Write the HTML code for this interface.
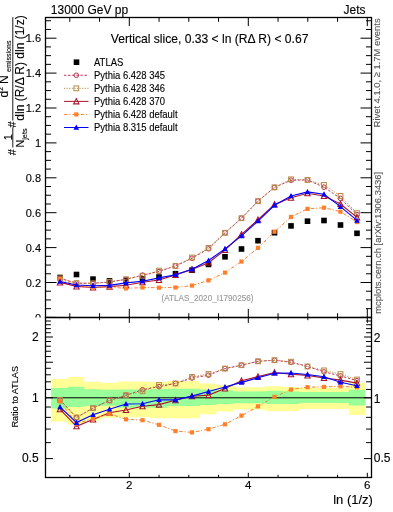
<!DOCTYPE html><html><head><meta charset="utf-8"><style>html,body{margin:0;padding:0;background:#fff;}svg{display:block;will-change:transform;}text{font-family:"Liberation Sans",sans-serif;}</style></head><body>
<svg width="393" height="512" viewBox="0 0 393 512">
<rect width="393" height="512" fill="#fff"/>
<text x="50.8" y="13.8" font-size="12" fill="#000" stroke="#000" stroke-width="0.12">13000 GeV pp</text>
<text x="365.6" y="13.8" font-size="12" fill="#000" stroke="#000" stroke-width="0.12" text-anchor="end">Jets</text>
<g>
<text x="209.6" y="43.3" font-size="12.1" text-anchor="middle" fill="#000" stroke="#000" stroke-width="0.12">Vertical slice, 0.33 &lt; ln (RΔ R) &lt; 0.67</text>
<rect x="73.7" y="59.4" width="5.6" height="5.6" fill="#000"/>
<text transform="translate(94,65.7) scale(0.915,1)" font-size="10.35" fill="#000" stroke="#000" stroke-width="0.12">ATLAS</text>
<line x1="64" y1="75.26" x2="88.5" y2="75.26" stroke="#bc3458" stroke-width="1.0" stroke-dasharray="2.4,1.7"/>
<circle cx="76.3" cy="75.26" r="2.3" fill="none" stroke="#bc3458" stroke-width="1"/>
<text transform="translate(94,78.76) scale(0.915,1)" font-size="10.35" fill="#000" stroke="#000" stroke-width="0.12">Pythia 6.428 345</text>
<line x1="64" y1="88.32" x2="88.5" y2="88.32" stroke="#b88a48" stroke-width="1.0" stroke-dasharray="1.1,1.5"/>
<rect x="73.9" y="85.92" width="4.8" height="4.8" fill="none" stroke="#b88a48" stroke-width="1"/>
<text transform="translate(94,91.82) scale(0.915,1)" font-size="10.35" fill="#000" stroke="#000" stroke-width="0.12">Pythia 6.428 346</text>
<line x1="64" y1="101.38" x2="88.5" y2="101.38" stroke="#a8142e" stroke-width="1.0"/>
<path d="M76.3,98.58 L79,103.88 L73.6,103.88 Z" fill="none" stroke="#a8142e" stroke-width="1.05"/>
<text transform="translate(94,104.88) scale(0.915,1)" font-size="10.35" fill="#000" stroke="#000" stroke-width="0.12">Pythia 6.428 370</text>
<line x1="64" y1="114.44" x2="88.5" y2="114.44" stroke="#ff7f2a" stroke-width="1.0" stroke-dasharray="3.5,1.8,1.1,2"/>
<rect x="74.2" y="112.34" width="4.2" height="4.2" fill="#ff7f2a"/>
<text transform="translate(94,117.94) scale(0.915,1)" font-size="10.35" fill="#000" stroke="#000" stroke-width="0.12">Pythia 6.428 default</text>
<line x1="64" y1="127.5" x2="88.5" y2="127.5" stroke="#0000ff" stroke-width="1.0"/>
<path d="M76.3,124.5 L79.1,129.8 L73.5,129.8 Z" fill="#0000ff"/>
<text transform="translate(94,131) scale(0.915,1)" font-size="10.35" fill="#000" stroke="#000" stroke-width="0.12">Pythia 8.315 default</text>
<text transform="translate(207.5,300.9) scale(0.95,1)" font-size="8.6" text-anchor="middle" fill="#999" stroke="#999" stroke-width="0.12">(ATLAS_2020_I1790256)</text>
<rect x="57.2" y="274.7" width="5.6" height="5.6" fill="#000"/>
<rect x="73.7" y="271.7" width="5.6" height="5.6" fill="#000"/>
<rect x="90.2" y="276.3" width="5.6" height="5.6" fill="#000"/>
<rect x="106.7" y="278.1" width="5.6" height="5.6" fill="#000"/>
<rect x="123.2" y="277.6" width="5.6" height="5.6" fill="#000"/>
<rect x="139.7" y="276" width="5.6" height="5.6" fill="#000"/>
<rect x="156.2" y="274.2" width="5.6" height="5.6" fill="#000"/>
<rect x="172.7" y="270.9" width="5.6" height="5.6" fill="#000"/>
<rect x="189.2" y="267.4" width="5.6" height="5.6" fill="#000"/>
<rect x="205.7" y="261.6" width="5.6" height="5.6" fill="#000"/>
<rect x="222.2" y="254" width="5.6" height="5.6" fill="#000"/>
<rect x="238.7" y="246.2" width="5.6" height="5.6" fill="#000"/>
<rect x="255.2" y="237.9" width="5.6" height="5.6" fill="#000"/>
<rect x="271.7" y="229.9" width="5.6" height="5.6" fill="#000"/>
<rect x="288.2" y="223.1" width="5.6" height="5.6" fill="#000"/>
<rect x="304.7" y="218.4" width="5.6" height="5.6" fill="#000"/>
<rect x="321.2" y="217.7" width="5.6" height="5.6" fill="#000"/>
<rect x="337.7" y="222.2" width="5.6" height="5.6" fill="#000"/>
<rect x="354.2" y="230.5" width="5.6" height="5.6" fill="#000"/>
<path d="M60,278.44 L76.5,283.13 L93,283.34 L109.5,282.01 L126,279.29 L142.5,275.07 L159,271.5 L175.5,265.96 L192,258.25 L208.5,248.82 L225,232.86 L241.5,218.21 L258,201.12 L274.5,187.37 L291,180.25 L307.5,179.95 L324,187.22 L340.5,198.41 L357,214.59" fill="none" stroke="#bc3458" stroke-width="1.0" stroke-dasharray="2.4,1.7"/><circle cx="60" cy="278.44" r="2.3" fill="none" stroke="#bc3458" stroke-width="1"/><circle cx="76.5" cy="283.13" r="2.3" fill="none" stroke="#bc3458" stroke-width="1"/><circle cx="93" cy="283.34" r="2.3" fill="none" stroke="#bc3458" stroke-width="1"/><circle cx="109.5" cy="282.01" r="2.3" fill="none" stroke="#bc3458" stroke-width="1"/><circle cx="126" cy="279.29" r="2.3" fill="none" stroke="#bc3458" stroke-width="1"/><circle cx="142.5" cy="275.07" r="2.3" fill="none" stroke="#bc3458" stroke-width="1"/><circle cx="159" cy="271.5" r="2.3" fill="none" stroke="#bc3458" stroke-width="1"/><circle cx="175.5" cy="265.96" r="2.3" fill="none" stroke="#bc3458" stroke-width="1"/><circle cx="192" cy="258.25" r="2.3" fill="none" stroke="#bc3458" stroke-width="1"/><circle cx="208.5" cy="248.82" r="2.3" fill="none" stroke="#bc3458" stroke-width="1"/><circle cx="225" cy="232.86" r="2.3" fill="none" stroke="#bc3458" stroke-width="1"/><circle cx="241.5" cy="218.21" r="2.3" fill="none" stroke="#bc3458" stroke-width="1"/><circle cx="258" cy="201.12" r="2.3" fill="none" stroke="#bc3458" stroke-width="1"/><circle cx="274.5" cy="187.37" r="2.3" fill="none" stroke="#bc3458" stroke-width="1"/><circle cx="291" cy="180.25" r="2.3" fill="none" stroke="#bc3458" stroke-width="1"/><circle cx="307.5" cy="179.95" r="2.3" fill="none" stroke="#bc3458" stroke-width="1"/><circle cx="324" cy="187.22" r="2.3" fill="none" stroke="#bc3458" stroke-width="1"/><circle cx="340.5" cy="198.41" r="2.3" fill="none" stroke="#bc3458" stroke-width="1"/><circle cx="357" cy="214.59" r="2.3" fill="none" stroke="#bc3458" stroke-width="1"/>
<path d="M60,278.44 L76.5,283.13 L93,283.34 L109.5,282.01 L126,279.29 L142.5,275.83 L159,270.65 L175.5,265.96 L192,257.5 L208.5,247.88 L225,232.86 L241.5,218.21 L258,201.12 L274.5,187.37 L291,179.31 L307.5,179.95 L324,184.97 L340.5,195.94 L357,213.17" fill="none" stroke="#b88a48" stroke-width="1.0" stroke-dasharray="1.1,1.5"/><rect x="57.6" y="276.04" width="4.8" height="4.8" fill="none" stroke="#b88a48" stroke-width="1"/><rect x="74.1" y="280.73" width="4.8" height="4.8" fill="none" stroke="#b88a48" stroke-width="1"/><rect x="90.6" y="280.94" width="4.8" height="4.8" fill="none" stroke="#b88a48" stroke-width="1"/><rect x="107.1" y="279.61" width="4.8" height="4.8" fill="none" stroke="#b88a48" stroke-width="1"/><rect x="123.6" y="276.89" width="4.8" height="4.8" fill="none" stroke="#b88a48" stroke-width="1"/><rect x="140.1" y="273.43" width="4.8" height="4.8" fill="none" stroke="#b88a48" stroke-width="1"/><rect x="156.6" y="268.25" width="4.8" height="4.8" fill="none" stroke="#b88a48" stroke-width="1"/><rect x="173.1" y="263.56" width="4.8" height="4.8" fill="none" stroke="#b88a48" stroke-width="1"/><rect x="189.6" y="255.1" width="4.8" height="4.8" fill="none" stroke="#b88a48" stroke-width="1"/><rect x="206.1" y="245.48" width="4.8" height="4.8" fill="none" stroke="#b88a48" stroke-width="1"/><rect x="222.6" y="230.46" width="4.8" height="4.8" fill="none" stroke="#b88a48" stroke-width="1"/><rect x="239.1" y="215.81" width="4.8" height="4.8" fill="none" stroke="#b88a48" stroke-width="1"/><rect x="255.6" y="198.72" width="4.8" height="4.8" fill="none" stroke="#b88a48" stroke-width="1"/><rect x="272.1" y="184.97" width="4.8" height="4.8" fill="none" stroke="#b88a48" stroke-width="1"/><rect x="288.6" y="176.91" width="4.8" height="4.8" fill="none" stroke="#b88a48" stroke-width="1"/><rect x="305.1" y="177.55" width="4.8" height="4.8" fill="none" stroke="#b88a48" stroke-width="1"/><rect x="321.6" y="182.57" width="4.8" height="4.8" fill="none" stroke="#b88a48" stroke-width="1"/><rect x="338.1" y="193.54" width="4.8" height="4.8" fill="none" stroke="#b88a48" stroke-width="1"/><rect x="354.6" y="210.77" width="4.8" height="4.8" fill="none" stroke="#b88a48" stroke-width="1"/>
<path d="M60,282.4 L76.5,286.4 L93,287.46 L109.5,286.64 L126,285.2 L142.5,282.33 L159,280.01 L175.5,274.88 L192,269.39 L208.5,262.74 L225,250.02 L241.5,234.37 L258,219.73 L274.5,204.38 L291,197.65 L307.5,193.21 L324,195.96 L340.5,203.97 L357,217.36" fill="none" stroke="#a8142e" stroke-width="1.1"/><path d="M60,279.6 L62.7,284.9 L57.3,284.9 Z" fill="none" stroke="#a8142e" stroke-width="1.05"/><path d="M76.5,283.6 L79.2,288.9 L73.8,288.9 Z" fill="none" stroke="#a8142e" stroke-width="1.05"/><path d="M93,284.66 L95.7,289.96 L90.3,289.96 Z" fill="none" stroke="#a8142e" stroke-width="1.05"/><path d="M109.5,283.84 L112.2,289.14 L106.8,289.14 Z" fill="none" stroke="#a8142e" stroke-width="1.05"/><path d="M126,282.4 L128.7,287.7 L123.3,287.7 Z" fill="none" stroke="#a8142e" stroke-width="1.05"/><path d="M142.5,279.53 L145.2,284.83 L139.8,284.83 Z" fill="none" stroke="#a8142e" stroke-width="1.05"/><path d="M159,277.21 L161.7,282.51 L156.3,282.51 Z" fill="none" stroke="#a8142e" stroke-width="1.05"/><path d="M175.5,272.08 L178.2,277.38 L172.8,277.38 Z" fill="none" stroke="#a8142e" stroke-width="1.05"/><path d="M192,266.59 L194.7,271.89 L189.3,271.89 Z" fill="none" stroke="#a8142e" stroke-width="1.05"/><path d="M208.5,259.94 L211.2,265.24 L205.8,265.24 Z" fill="none" stroke="#a8142e" stroke-width="1.05"/><path d="M225,247.22 L227.7,252.52 L222.3,252.52 Z" fill="none" stroke="#a8142e" stroke-width="1.05"/><path d="M241.5,231.57 L244.2,236.87 L238.8,236.87 Z" fill="none" stroke="#a8142e" stroke-width="1.05"/><path d="M258,216.93 L260.7,222.23 L255.3,222.23 Z" fill="none" stroke="#a8142e" stroke-width="1.05"/><path d="M274.5,201.58 L277.2,206.88 L271.8,206.88 Z" fill="none" stroke="#a8142e" stroke-width="1.05"/><path d="M291,194.85 L293.7,200.15 L288.3,200.15 Z" fill="none" stroke="#a8142e" stroke-width="1.05"/><path d="M307.5,190.41 L310.2,195.71 L304.8,195.71 Z" fill="none" stroke="#a8142e" stroke-width="1.05"/><path d="M324,193.16 L326.7,198.46 L321.3,198.46 Z" fill="none" stroke="#a8142e" stroke-width="1.05"/><path d="M340.5,201.17 L343.2,206.47 L337.8,206.47 Z" fill="none" stroke="#a8142e" stroke-width="1.05"/><path d="M357,214.56 L359.7,219.86 L354.3,219.86 Z" fill="none" stroke="#a8142e" stroke-width="1.05"/>
<path d="M60,279.1 L76.5,285.4 L93,287.25 L109.5,286.99 L126,288.44 L142.5,287.5 L159,287.7 L175.5,287.5 L192,285.58 L208.5,280.35 L225,272.6 L241.5,261.56 L258,247.86 L274.5,231.73 L291,216.93 L307.5,208.84 L324,207.68 L340.5,211.71 L357,222.04" fill="none" stroke="#ff7f2a" stroke-width="1.0" stroke-dasharray="3.5,1.8,1.1,2"/><rect x="57.9" y="277" width="4.2" height="4.2" fill="#ff7f2a"/><rect x="74.4" y="283.3" width="4.2" height="4.2" fill="#ff7f2a"/><rect x="90.9" y="285.15" width="4.2" height="4.2" fill="#ff7f2a"/><rect x="107.4" y="284.89" width="4.2" height="4.2" fill="#ff7f2a"/><rect x="123.9" y="286.34" width="4.2" height="4.2" fill="#ff7f2a"/><rect x="140.4" y="285.4" width="4.2" height="4.2" fill="#ff7f2a"/><rect x="156.9" y="285.6" width="4.2" height="4.2" fill="#ff7f2a"/><rect x="173.4" y="285.4" width="4.2" height="4.2" fill="#ff7f2a"/><rect x="189.9" y="283.48" width="4.2" height="4.2" fill="#ff7f2a"/><rect x="206.4" y="278.25" width="4.2" height="4.2" fill="#ff7f2a"/><rect x="222.9" y="270.5" width="4.2" height="4.2" fill="#ff7f2a"/><rect x="239.4" y="259.46" width="4.2" height="4.2" fill="#ff7f2a"/><rect x="255.9" y="245.76" width="4.2" height="4.2" fill="#ff7f2a"/><rect x="272.4" y="229.63" width="4.2" height="4.2" fill="#ff7f2a"/><rect x="288.9" y="214.83" width="4.2" height="4.2" fill="#ff7f2a"/><rect x="305.4" y="206.74" width="4.2" height="4.2" fill="#ff7f2a"/><rect x="321.9" y="205.58" width="4.2" height="4.2" fill="#ff7f2a"/><rect x="338.4" y="209.61" width="4.2" height="4.2" fill="#ff7f2a"/><rect x="354.9" y="219.94" width="4.2" height="4.2" fill="#ff7f2a"/>
<path d="M60,281.47 L76.5,285.07 L93,285.81 L109.5,285.35 L126,282.92 L142.5,281.31 L159,277.91 L175.5,274.73 L192,269.28 L208.5,260.45 L225,248.86 L241.5,235.87 L258,221.06 L274.5,205.28 L291,196 L307.5,191.93 L324,194.29 L340.5,206.66 L357,220.4" fill="none" stroke="#0000ff" stroke-width="1.1"/><path d="M60,278.47 L62.8,283.77 L57.2,283.77 Z" fill="#0000ff"/><path d="M76.5,282.07 L79.3,287.37 L73.7,287.37 Z" fill="#0000ff"/><path d="M93,282.81 L95.8,288.11 L90.2,288.11 Z" fill="#0000ff"/><path d="M109.5,282.35 L112.3,287.65 L106.7,287.65 Z" fill="#0000ff"/><path d="M126,279.92 L128.8,285.22 L123.2,285.22 Z" fill="#0000ff"/><path d="M142.5,278.31 L145.3,283.61 L139.7,283.61 Z" fill="#0000ff"/><path d="M159,274.91 L161.8,280.21 L156.2,280.21 Z" fill="#0000ff"/><path d="M175.5,271.73 L178.3,277.03 L172.7,277.03 Z" fill="#0000ff"/><path d="M192,266.28 L194.8,271.58 L189.2,271.58 Z" fill="#0000ff"/><path d="M208.5,257.45 L211.3,262.75 L205.7,262.75 Z" fill="#0000ff"/><path d="M225,245.86 L227.8,251.16 L222.2,251.16 Z" fill="#0000ff"/><path d="M241.5,232.87 L244.3,238.17 L238.7,238.17 Z" fill="#0000ff"/><path d="M258,218.06 L260.8,223.36 L255.2,223.36 Z" fill="#0000ff"/><path d="M274.5,202.28 L277.3,207.58 L271.7,207.58 Z" fill="#0000ff"/><path d="M291,193 L293.8,198.3 L288.2,198.3 Z" fill="#0000ff"/><path d="M307.5,188.93 L310.3,194.23 L304.7,194.23 Z" fill="#0000ff"/><path d="M324,191.29 L326.8,196.59 L321.2,196.59 Z" fill="#0000ff"/><path d="M340.5,203.66 L343.3,208.96 L337.7,208.96 Z" fill="#0000ff"/><path d="M357,217.4 L359.8,222.7 L354.2,222.7 Z" fill="#0000ff"/>
</g>
<text x="41" y="322.1" font-size="11" text-anchor="end" fill="#000" stroke="#000" stroke-width="0.12">0</text>
<text x="41" y="287.06" font-size="11" text-anchor="end" fill="#000" stroke="#000" stroke-width="0.12">0.2</text>
<text x="41" y="252.02" font-size="11" text-anchor="end" fill="#000" stroke="#000" stroke-width="0.12">0.4</text>
<text x="41" y="216.98" font-size="11" text-anchor="end" fill="#000" stroke="#000" stroke-width="0.12">0.6</text>
<text x="41" y="181.94" font-size="11" text-anchor="end" fill="#000" stroke="#000" stroke-width="0.12">0.8</text>
<text x="41" y="146.9" font-size="11" text-anchor="end" fill="#000" stroke="#000" stroke-width="0.12">1</text>
<text x="41" y="111.86" font-size="11" text-anchor="end" fill="#000" stroke="#000" stroke-width="0.12">1.2</text>
<text x="41" y="76.82" font-size="11" text-anchor="end" fill="#000" stroke="#000" stroke-width="0.12">1.4</text>
<text x="41" y="41.78" font-size="11" text-anchor="end" fill="#000" stroke="#000" stroke-width="0.12">1.6</text>
<rect x="0" y="317.5" width="371.5" height="160.0" fill="#fff"/>
<path d="M51.1,379.1 H67.64 V377.1 H84.17 V381.8 H100.71 V382.7 H117.25 V381.4 H133.78 V381.4 H150.32 V381.9 H166.86 V381.1 H183.4 V381.1 H199.93 V383.4 H216.47 V384.9 H233.01 V387.3 H249.54 V387.3 H266.08 V386.2 H282.62 V386.9 H299.15 V387.8 H315.69 V387.8 H332.23 V387.8 H348.77 V382.9 H365.3 V414.9 H348.77 V409 H332.23 V409 H315.69 V409 H299.15 V411 H282.62 V411.2 H266.08 V409.4 H249.54 V409.4 H233.01 V411.5 H216.47 V414.3 H199.93 V418.3 H183.4 V418.3 H166.86 V418.3 H150.32 V417.2 H133.78 V417.2 H117.25 V417.7 H100.71 V420.4 H84.17 V424.4 H67.64 V421.4 H51.1 Z" fill="#ffff96"/>
<path d="M51.1,387.9 H67.64 V386.7 H84.17 V389.3 H100.71 V389.7 H117.25 V389.4 H133.78 V389.4 H150.32 V389.1 H166.86 V388.7 H183.4 V388.7 H199.93 V389.5 H216.47 V390.3 H233.01 V391.6 H249.54 V391.6 H266.08 V390.7 H282.62 V391.4 H299.15 V392.1 H315.69 V392.1 H332.23 V392.1 H348.77 V389.8 H365.3 V405.5 H348.77 V403.1 H332.23 V403.1 H315.69 V403.1 H299.15 V403.9 H282.62 V404 H266.08 V403.2 H249.54 V403.2 H233.01 V404 H216.47 V405.1 H199.93 V406.1 H183.4 V406.1 H166.86 V407.7 H150.32 V407.7 H133.78 V407.7 H117.25 V405.7 H100.71 V406.1 H84.17 V407.1 H67.64 V408.6 H51.1 Z" fill="#99ff99"/>
<line x1="45.5" y1="397.8" x2="371.5" y2="397.8" stroke="#000" stroke-width="1"/>
<path d="M60,399.9 L76.5,417.5 L93,408.1 L109.5,400.5 L126,395.2 L142.5,389.7 L159,386.6 L175.5,383.5 L192,378 L208.5,375.2 L225,368.6 L241.5,365.2 L258,361.3 L274.5,360.2 L291,362.3 L307.5,366.5 L324,371.9 L340.5,375.9 L357,380.7" fill="none" stroke="#bc3458" stroke-width="1.0" stroke-dasharray="2.4,1.7"/><circle cx="60" cy="399.9" r="2.3" fill="none" stroke="#bc3458" stroke-width="1"/><circle cx="76.5" cy="417.5" r="2.3" fill="none" stroke="#bc3458" stroke-width="1"/><circle cx="93" cy="408.1" r="2.3" fill="none" stroke="#bc3458" stroke-width="1"/><circle cx="109.5" cy="400.5" r="2.3" fill="none" stroke="#bc3458" stroke-width="1"/><circle cx="126" cy="395.2" r="2.3" fill="none" stroke="#bc3458" stroke-width="1"/><circle cx="142.5" cy="389.7" r="2.3" fill="none" stroke="#bc3458" stroke-width="1"/><circle cx="159" cy="386.6" r="2.3" fill="none" stroke="#bc3458" stroke-width="1"/><circle cx="175.5" cy="383.5" r="2.3" fill="none" stroke="#bc3458" stroke-width="1"/><circle cx="192" cy="378" r="2.3" fill="none" stroke="#bc3458" stroke-width="1"/><circle cx="208.5" cy="375.2" r="2.3" fill="none" stroke="#bc3458" stroke-width="1"/><circle cx="225" cy="368.6" r="2.3" fill="none" stroke="#bc3458" stroke-width="1"/><circle cx="241.5" cy="365.2" r="2.3" fill="none" stroke="#bc3458" stroke-width="1"/><circle cx="258" cy="361.3" r="2.3" fill="none" stroke="#bc3458" stroke-width="1"/><circle cx="274.5" cy="360.2" r="2.3" fill="none" stroke="#bc3458" stroke-width="1"/><circle cx="291" cy="362.3" r="2.3" fill="none" stroke="#bc3458" stroke-width="1"/><circle cx="307.5" cy="366.5" r="2.3" fill="none" stroke="#bc3458" stroke-width="1"/><circle cx="324" cy="371.9" r="2.3" fill="none" stroke="#bc3458" stroke-width="1"/><circle cx="340.5" cy="375.9" r="2.3" fill="none" stroke="#bc3458" stroke-width="1"/><circle cx="357" cy="380.7" r="2.3" fill="none" stroke="#bc3458" stroke-width="1"/>
<path d="M60,399.9 L76.5,417.5 L93,408.1 L109.5,400.5 L126,395.2 L142.5,391.3 L159,385 L175.5,383.5 L192,376.9 L208.5,374 L225,368.6 L241.5,365.2 L258,361.3 L274.5,360.2 L291,361.7 L307.5,366.5 L324,370.4 L340.5,374.1 L357,379.5" fill="none" stroke="#b88a48" stroke-width="1.0" stroke-dasharray="1.1,1.5"/><rect x="57.6" y="397.5" width="4.8" height="4.8" fill="none" stroke="#b88a48" stroke-width="1"/><rect x="74.1" y="415.1" width="4.8" height="4.8" fill="none" stroke="#b88a48" stroke-width="1"/><rect x="90.6" y="405.7" width="4.8" height="4.8" fill="none" stroke="#b88a48" stroke-width="1"/><rect x="107.1" y="398.1" width="4.8" height="4.8" fill="none" stroke="#b88a48" stroke-width="1"/><rect x="123.6" y="392.8" width="4.8" height="4.8" fill="none" stroke="#b88a48" stroke-width="1"/><rect x="140.1" y="388.9" width="4.8" height="4.8" fill="none" stroke="#b88a48" stroke-width="1"/><rect x="156.6" y="382.6" width="4.8" height="4.8" fill="none" stroke="#b88a48" stroke-width="1"/><rect x="173.1" y="381.1" width="4.8" height="4.8" fill="none" stroke="#b88a48" stroke-width="1"/><rect x="189.6" y="374.5" width="4.8" height="4.8" fill="none" stroke="#b88a48" stroke-width="1"/><rect x="206.1" y="371.6" width="4.8" height="4.8" fill="none" stroke="#b88a48" stroke-width="1"/><rect x="222.6" y="366.2" width="4.8" height="4.8" fill="none" stroke="#b88a48" stroke-width="1"/><rect x="239.1" y="362.8" width="4.8" height="4.8" fill="none" stroke="#b88a48" stroke-width="1"/><rect x="255.6" y="358.9" width="4.8" height="4.8" fill="none" stroke="#b88a48" stroke-width="1"/><rect x="272.1" y="357.8" width="4.8" height="4.8" fill="none" stroke="#b88a48" stroke-width="1"/><rect x="288.6" y="359.3" width="4.8" height="4.8" fill="none" stroke="#b88a48" stroke-width="1"/><rect x="305.1" y="364.1" width="4.8" height="4.8" fill="none" stroke="#b88a48" stroke-width="1"/><rect x="321.6" y="368" width="4.8" height="4.8" fill="none" stroke="#b88a48" stroke-width="1"/><rect x="338.1" y="371.7" width="4.8" height="4.8" fill="none" stroke="#b88a48" stroke-width="1"/><rect x="354.6" y="377.1" width="4.8" height="4.8" fill="none" stroke="#b88a48" stroke-width="1"/>
<path d="M60,409.3 L76.5,426.3 L93,419.4 L109.5,412.8 L126,410 L142.5,406.2 L159,404.6 L175.5,400.2 L192,396.3 L208.5,395.1 L225,388.5 L241.5,380.8 L258,376.6 L274.5,372.5 L291,374.2 L307.5,375.4 L324,378 L340.5,380.1 L357,383.1" fill="none" stroke="#a8142e" stroke-width="1.1"/><path d="M60,406.5 L62.7,411.8 L57.3,411.8 Z" fill="none" stroke="#a8142e" stroke-width="1.05"/><path d="M76.5,423.5 L79.2,428.8 L73.8,428.8 Z" fill="none" stroke="#a8142e" stroke-width="1.05"/><path d="M93,416.6 L95.7,421.9 L90.3,421.9 Z" fill="none" stroke="#a8142e" stroke-width="1.05"/><path d="M109.5,410 L112.2,415.3 L106.8,415.3 Z" fill="none" stroke="#a8142e" stroke-width="1.05"/><path d="M126,407.2 L128.7,412.5 L123.3,412.5 Z" fill="none" stroke="#a8142e" stroke-width="1.05"/><path d="M142.5,403.4 L145.2,408.7 L139.8,408.7 Z" fill="none" stroke="#a8142e" stroke-width="1.05"/><path d="M159,401.8 L161.7,407.1 L156.3,407.1 Z" fill="none" stroke="#a8142e" stroke-width="1.05"/><path d="M175.5,397.4 L178.2,402.7 L172.8,402.7 Z" fill="none" stroke="#a8142e" stroke-width="1.05"/><path d="M192,393.5 L194.7,398.8 L189.3,398.8 Z" fill="none" stroke="#a8142e" stroke-width="1.05"/><path d="M208.5,392.3 L211.2,397.6 L205.8,397.6 Z" fill="none" stroke="#a8142e" stroke-width="1.05"/><path d="M225,385.7 L227.7,391 L222.3,391 Z" fill="none" stroke="#a8142e" stroke-width="1.05"/><path d="M241.5,378 L244.2,383.3 L238.8,383.3 Z" fill="none" stroke="#a8142e" stroke-width="1.05"/><path d="M258,373.8 L260.7,379.1 L255.3,379.1 Z" fill="none" stroke="#a8142e" stroke-width="1.05"/><path d="M274.5,369.7 L277.2,375 L271.8,375 Z" fill="none" stroke="#a8142e" stroke-width="1.05"/><path d="M291,371.4 L293.7,376.7 L288.3,376.7 Z" fill="none" stroke="#a8142e" stroke-width="1.05"/><path d="M307.5,372.6 L310.2,377.9 L304.8,377.9 Z" fill="none" stroke="#a8142e" stroke-width="1.05"/><path d="M324,375.2 L326.7,380.5 L321.3,380.5 Z" fill="none" stroke="#a8142e" stroke-width="1.05"/><path d="M340.5,377.3 L343.2,382.6 L337.8,382.6 Z" fill="none" stroke="#a8142e" stroke-width="1.05"/><path d="M357,380.3 L359.7,385.6 L354.3,385.6 Z" fill="none" stroke="#a8142e" stroke-width="1.05"/>
<path d="M60,401.4 L76.5,423.5 L93,418.8 L109.5,413.8 L126,419.3 L142.5,420.2 L159,424.8 L175.5,431.1 L192,432.4 L208.5,429.2 L225,424.3 L241.5,415.6 L258,406.4 L274.5,396.8 L291,389.6 L307.5,387.2 L324,386.9 L340.5,386.3 L357,387.3" fill="none" stroke="#ff7f2a" stroke-width="1.0" stroke-dasharray="3.5,1.8,1.1,2"/><rect x="57.9" y="399.3" width="4.2" height="4.2" fill="#ff7f2a"/><rect x="74.4" y="421.4" width="4.2" height="4.2" fill="#ff7f2a"/><rect x="90.9" y="416.7" width="4.2" height="4.2" fill="#ff7f2a"/><rect x="107.4" y="411.7" width="4.2" height="4.2" fill="#ff7f2a"/><rect x="123.9" y="417.2" width="4.2" height="4.2" fill="#ff7f2a"/><rect x="140.4" y="418.1" width="4.2" height="4.2" fill="#ff7f2a"/><rect x="156.9" y="422.7" width="4.2" height="4.2" fill="#ff7f2a"/><rect x="173.4" y="429" width="4.2" height="4.2" fill="#ff7f2a"/><rect x="189.9" y="430.3" width="4.2" height="4.2" fill="#ff7f2a"/><rect x="206.4" y="427.1" width="4.2" height="4.2" fill="#ff7f2a"/><rect x="222.9" y="422.2" width="4.2" height="4.2" fill="#ff7f2a"/><rect x="239.4" y="413.5" width="4.2" height="4.2" fill="#ff7f2a"/><rect x="255.9" y="404.3" width="4.2" height="4.2" fill="#ff7f2a"/><rect x="272.4" y="394.7" width="4.2" height="4.2" fill="#ff7f2a"/><rect x="288.9" y="387.5" width="4.2" height="4.2" fill="#ff7f2a"/><rect x="305.4" y="385.1" width="4.2" height="4.2" fill="#ff7f2a"/><rect x="321.9" y="384.8" width="4.2" height="4.2" fill="#ff7f2a"/><rect x="338.4" y="384.2" width="4.2" height="4.2" fill="#ff7f2a"/><rect x="354.9" y="385.2" width="4.2" height="4.2" fill="#ff7f2a"/>
<path d="M60,407 L76.5,422.6 L93,414.7 L109.5,409.2 L126,404 L142.5,403.7 L159,399.8 L175.5,399.9 L192,396.1 L208.5,391.5 L225,387 L241.5,382.4 L258,377.8 L274.5,373.2 L291,373 L307.5,374.5 L324,376.8 L340.5,382.2 L357,385.8" fill="none" stroke="#0000ff" stroke-width="1.1"/><path d="M60,404 L62.8,409.3 L57.2,409.3 Z" fill="#0000ff"/><path d="M76.5,419.6 L79.3,424.9 L73.7,424.9 Z" fill="#0000ff"/><path d="M93,411.7 L95.8,417 L90.2,417 Z" fill="#0000ff"/><path d="M109.5,406.2 L112.3,411.5 L106.7,411.5 Z" fill="#0000ff"/><path d="M126,401 L128.8,406.3 L123.2,406.3 Z" fill="#0000ff"/><path d="M142.5,400.7 L145.3,406 L139.7,406 Z" fill="#0000ff"/><path d="M159,396.8 L161.8,402.1 L156.2,402.1 Z" fill="#0000ff"/><path d="M175.5,396.9 L178.3,402.2 L172.7,402.2 Z" fill="#0000ff"/><path d="M192,393.1 L194.8,398.4 L189.2,398.4 Z" fill="#0000ff"/><path d="M208.5,388.5 L211.3,393.8 L205.7,393.8 Z" fill="#0000ff"/><path d="M225,384 L227.8,389.3 L222.2,389.3 Z" fill="#0000ff"/><path d="M241.5,379.4 L244.3,384.7 L238.7,384.7 Z" fill="#0000ff"/><path d="M258,374.8 L260.8,380.1 L255.2,380.1 Z" fill="#0000ff"/><path d="M274.5,370.2 L277.3,375.5 L271.7,375.5 Z" fill="#0000ff"/><path d="M291,370 L293.8,375.3 L288.2,375.3 Z" fill="#0000ff"/><path d="M307.5,371.5 L310.3,376.8 L304.7,376.8 Z" fill="#0000ff"/><path d="M324,373.8 L326.8,379.1 L321.2,379.1 Z" fill="#0000ff"/><path d="M340.5,379.2 L343.3,384.5 L337.7,384.5 Z" fill="#0000ff"/><path d="M357,382.8 L359.8,388.1 L354.2,388.1 Z" fill="#0000ff"/>
<path d="M45.5,317.4L56.5,317.4M371.5,317.4L360.5,317.4M45.5,308.67L51,308.67M371.5,308.67L366,308.67M45.5,299.95L51,299.95M371.5,299.95L366,299.95M45.5,291.22L51,291.22M371.5,291.22L366,291.22M45.5,282.5L56.5,282.5M371.5,282.5L360.5,282.5M45.5,273.77L51,273.77M371.5,273.77L366,273.77M45.5,265.05L51,265.05M371.5,265.05L366,265.05M45.5,256.32L51,256.32M371.5,256.32L366,256.32M45.5,247.6L56.5,247.6M371.5,247.6L360.5,247.6M45.5,238.87L51,238.87M371.5,238.87L366,238.87M45.5,230.15L51,230.15M371.5,230.15L366,230.15M45.5,221.42L51,221.42M371.5,221.42L366,221.42M45.5,212.7L56.5,212.7M371.5,212.7L360.5,212.7M45.5,203.97L51,203.97M371.5,203.97L366,203.97M45.5,195.25L51,195.25M371.5,195.25L366,195.25M45.5,186.52L51,186.52M371.5,186.52L366,186.52M45.5,177.8L56.5,177.8M371.5,177.8L360.5,177.8M45.5,169.07L51,169.07M371.5,169.07L366,169.07M45.5,160.35L51,160.35M371.5,160.35L366,160.35M45.5,151.62L51,151.62M371.5,151.62L366,151.62M45.5,142.9L56.5,142.9M371.5,142.9L360.5,142.9M45.5,134.17L51,134.17M371.5,134.17L366,134.17M45.5,125.45L51,125.45M371.5,125.45L366,125.45M45.5,116.72L51,116.72M371.5,116.72L366,116.72M45.5,108L56.5,108M371.5,108L360.5,108M45.5,99.27L51,99.27M371.5,99.27L366,99.27M45.5,90.55L51,90.55M371.5,90.55L366,90.55M45.5,81.82L51,81.82M371.5,81.82L366,81.82M45.5,73.1L56.5,73.1M371.5,73.1L360.5,73.1M45.5,64.37L51,64.37M371.5,64.37L366,64.37M45.5,55.65L51,55.65M371.5,55.65L366,55.65M45.5,46.92L51,46.92M371.5,46.92L366,46.92M45.5,38.2L56.5,38.2M371.5,38.2L360.5,38.2M45.5,29.47L51,29.47M371.5,29.47L366,29.47M45.5,20.75L51,20.75M371.5,20.75L366,20.75M69.8,17.5L69.8,21.8M69.8,317.5L69.8,313.2M99.55,17.5L99.55,21.8M99.55,317.5L99.55,313.2M129.3,17.5L129.3,26.1M129.3,317.5L129.3,308.9M159.05,17.5L159.05,21.8M159.05,317.5L159.05,313.2M188.8,17.5L188.8,21.8M188.8,317.5L188.8,313.2M218.55,17.5L218.55,21.8M218.55,317.5L218.55,313.2M248.3,17.5L248.3,26.1M248.3,317.5L248.3,308.9M278.05,17.5L278.05,21.8M278.05,317.5L278.05,313.2M307.8,17.5L307.8,21.8M307.8,317.5L307.8,313.2M337.55,17.5L337.55,21.8M337.55,317.5L337.55,313.2M367.3,17.5L367.3,26.1M367.3,317.5L367.3,308.9M45.5,458.6L53,458.6M371.5,458.6L364,458.6M45.5,442.61L50.9,442.61M371.5,442.61L366.1,442.61M45.5,429.09L50.9,429.09M371.5,429.09L366.1,429.09M45.5,417.37L50.9,417.37M371.5,417.37L366.1,417.37M45.5,407.04L50.9,407.04M371.5,407.04L366.1,407.04M45.5,397.8L53,397.8M371.5,397.8L364,397.8M45.5,389.44L50.9,389.44M371.5,389.44L366.1,389.44M45.5,381.81L50.9,381.81M371.5,381.81L366.1,381.81M45.5,374.79L50.9,374.79M371.5,374.79L366.1,374.79M45.5,368.29L50.9,368.29M371.5,368.29L366.1,368.29M45.5,362.23L53,362.23M371.5,362.23L364,362.23M45.5,356.57L50.9,356.57M371.5,356.57L366.1,356.57M45.5,351.26L50.9,351.26M371.5,351.26L366.1,351.26M45.5,346.24L50.9,346.24M371.5,346.24L366.1,346.24M45.5,341.5L50.9,341.5M371.5,341.5L366.1,341.5M45.5,337L53,337M371.5,337L364,337M45.5,332.72L50.9,332.72M371.5,332.72L366.1,332.72M45.5,328.64L50.9,328.64M371.5,328.64L366.1,328.64M45.5,324.74L50.9,324.74M371.5,324.74L366.1,324.74M45.5,321.01L50.9,321.01M371.5,321.01L366.1,321.01M45.5,317.43L50.9,317.43M371.5,317.43L366.1,317.43M69.8,317.5L69.8,320.2M69.8,477.5L69.8,474.8M99.55,317.5L99.55,320.2M99.55,477.5L99.55,474.8M129.3,317.5L129.3,322.9M129.3,477.5L129.3,472.8M159.05,317.5L159.05,320.2M159.05,477.5L159.05,474.8M188.8,317.5L188.8,320.2M188.8,477.5L188.8,474.8M218.55,317.5L218.55,320.2M218.55,477.5L218.55,474.8M248.3,317.5L248.3,322.9M248.3,477.5L248.3,472.8M278.05,317.5L278.05,320.2M278.05,477.5L278.05,474.8M307.8,317.5L307.8,320.2M307.8,477.5L307.8,474.8M337.55,317.5L337.55,320.2M337.55,477.5L337.55,474.8M367.3,317.5L367.3,322.9M367.3,477.5L367.3,472.8" stroke="#000" stroke-width="1" fill="none"/>
<rect x="45.5" y="17.5" width="326.0" height="300.0" fill="none" stroke="#000" stroke-width="1.3"/>
<rect x="45.5" y="317.5" width="326.0" height="160.0" fill="none" stroke="#000" stroke-width="1.3"/>
<text x="38.6" y="341.2" font-size="12" text-anchor="end" fill="#000" stroke="#000" stroke-width="0.12">2</text>
<text x="373.8" y="341.6" font-size="12" fill="#000" stroke="#000" stroke-width="0.12">2</text>
<text x="38.6" y="402" font-size="12" text-anchor="end" fill="#000" stroke="#000" stroke-width="0.12">1</text>
<text x="373.8" y="403" font-size="12" fill="#000" stroke="#000" stroke-width="0.12">1</text>
<text x="38.6" y="462" font-size="12" text-anchor="end" fill="#000" stroke="#000" stroke-width="0.12">0.5</text>
<text x="373.8" y="462.4" font-size="12" fill="#000" stroke="#000" stroke-width="0.12">0.5</text>
<text x="129.3" y="488.6" font-size="11.5" text-anchor="middle" fill="#000" stroke="#000" stroke-width="0.12">2</text>
<text x="248.3" y="488.6" font-size="11.5" text-anchor="middle" fill="#000" stroke="#000" stroke-width="0.12">4</text>
<text x="367.3" y="488.6" font-size="11.5" text-anchor="middle" fill="#000" stroke="#000" stroke-width="0.12">6</text>
<text x="372.9" y="504.2" font-size="13" text-anchor="end" fill="#000" stroke="#000" stroke-width="0.12">ln (1/z)</text>
<text transform="translate(18.1,396.8) rotate(-90) scale(0.93,1)" font-size="9.8" text-anchor="middle" fill="#000" stroke="#000" stroke-width="0.12">Ratio to ATLAS</text>
<g transform="translate(0,0)">
<line x1="12.8" y1="17.2" x2="12.8" y2="120.5" stroke="#000" stroke-width="0.9"/>
<line x1="12.8" y1="127.3" x2="12.8" y2="147.5" stroke="#000" stroke-width="0.9"/>
<text transform="translate(24.2,68) rotate(-90)" font-size="12" text-anchor="middle" fill="#000" stroke="#000" stroke-width="0.12">dln (R/Δ R) dln (1/z)</text>
<text transform="translate(7.5,97.4) rotate(-90)" font-size="12" fill="#000" stroke="#000" stroke-width="0.12">d<tspan font-size="7" dy="-4.8">2</tspan><tspan dy="4.8" dx="-0.6"> N</tspan></text>
<text transform="translate(11.3,72) rotate(-90)" font-size="7.1" fill="#000" stroke="#000" stroke-width="0.12">emissions</text>
<text transform="translate(11.8,140.3) rotate(-90)" font-size="11" fill="#000" stroke="#000" stroke-width="0.12">1</text>
<text transform="translate(23.6,147.4) rotate(-90)" font-size="11" fill="#000" stroke="#000" stroke-width="0.12">N</text>
<text transform="translate(27.1,139.8) rotate(-90)" font-size="7.3" fill="#000" stroke="#000" stroke-width="0.12">jets</text>
<text transform="translate(16.1,127.6) rotate(-90)" font-size="11" fill="#000" stroke="#000" stroke-width="0.12">#</text>
<text transform="translate(16.1,155.2) rotate(-90)" font-size="11" fill="#000" stroke="#000" stroke-width="0.12">#</text>
</g>
<text transform="translate(380,127.4) rotate(-90) scale(0.95,1)" font-size="9.9" fill="#555" stroke="#555" stroke-width="0.12">Rivet 4.1.0, ≥ 1.7M events</text>
<text transform="translate(381.4,313.8) rotate(-90) scale(0.95,1)" font-size="9.9" fill="#555" stroke="#555" stroke-width="0.12">mcplots.cern.ch [arXiv:1306.3436]</text>
</svg></body></html>
